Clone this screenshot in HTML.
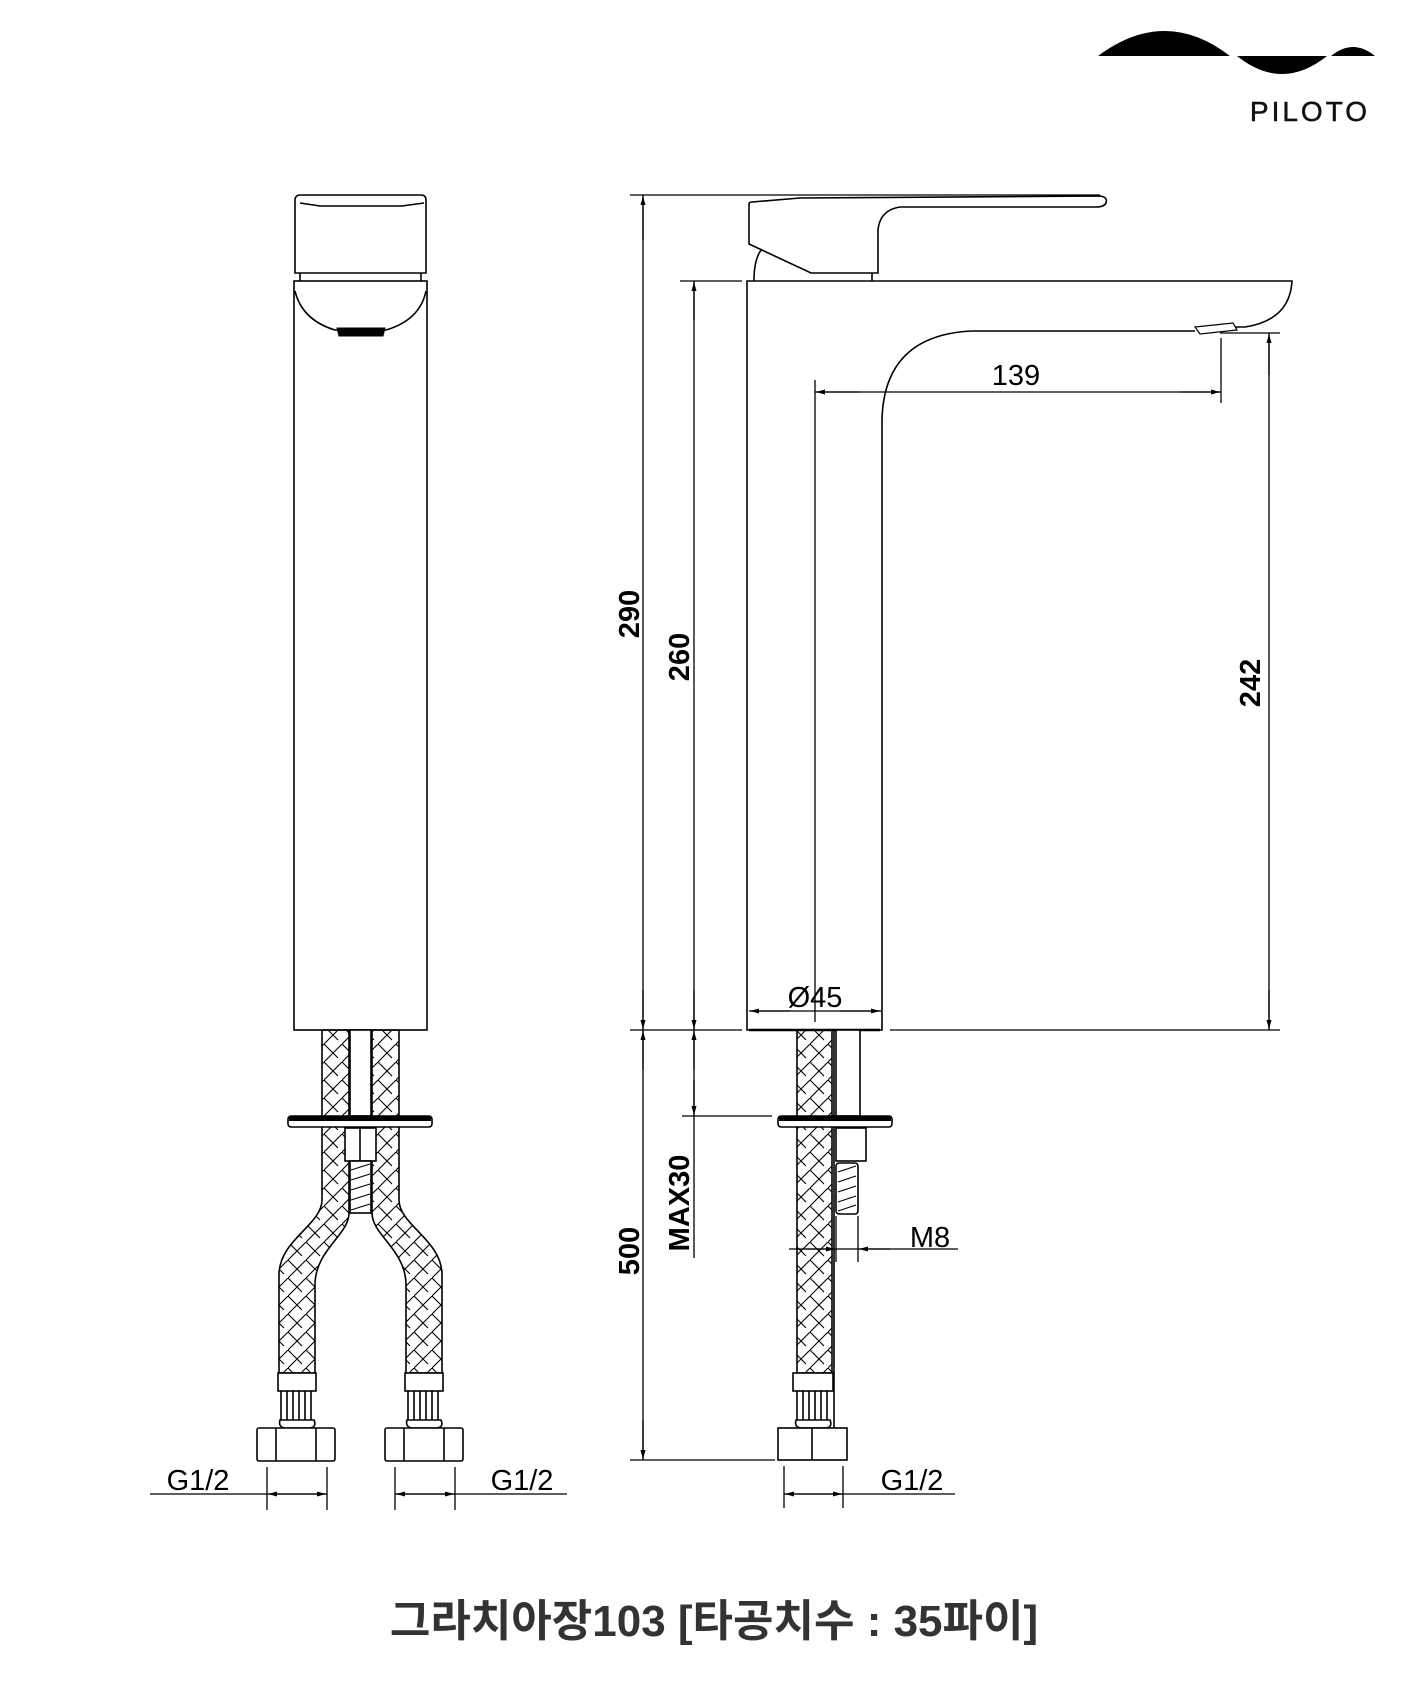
<!DOCTYPE html>
<html><head><meta charset="utf-8"><style>
html,body{margin:0;padding:0;background:#fff;}
svg{display:block;}
</style></head><body>
<svg width="1417" height="1701" viewBox="0 0 1417 1701" xmlns="http://www.w3.org/2000/svg">
<defs>
<pattern id="braid" width="18" height="18" patternUnits="userSpaceOnUse">
<path d="M0,0 L9,9 L0,18 M9,9 L18,0 M9,9 L14,14" stroke="#000" stroke-width="1.1" fill="none"/>
</pattern>
<marker id="ar" markerWidth="10" markerHeight="8" refX="9" refY="4" orient="auto" markerUnits="userSpaceOnUse">
<path d="M0,1.5 L9,4 L0,6.5 Z" fill="#000"/>
</marker>
</defs>
<g fill="none" stroke="#000" stroke-width="1.6">
<!-- Logo -->
<path d="M1098,56 Q1165,6 1230,56 Z" fill="#000" stroke="none"/>
<path d="M1237,56 Q1282,92 1327,56 Z" fill="#000" stroke="none"/>
<path d="M1331,56 Q1353,38 1375,56 Z" fill="#000" stroke="none"/>

<!-- LEFT VIEW -->
<path d="M295,199 Q296,195 300,195 L421,195 Q426,195 426,200 L426,273 L295,273 Z"/>
<path d="M300,203 L320,206 L402,206 L424,203"/>
<line x1="300" y1="273" x2="300" y2="281"/><line x1="421" y1="273" x2="421" y2="281"/>
<rect x="294" y="281" width="133" height="749"/>
<path d="M295,291 Q302,320 335,330 L386,330 Q420,320 426,291"/>
<path d="M337,328 L385,328 L383,336 L339,336 Z" fill="#000" stroke-width="1"/>
<!-- hoses -->
<path d="M322,1030 L322,1200 C322,1225 279,1240 279,1275 L279,1373 L315,1373 L315,1285 C315,1250 349,1235 349,1213 L349,1030 Z" fill="url(#braid)"/>
<path d="M399,1030 L399,1200 C399,1225 442,1240 442,1275 L442,1373 L406,1373 L406,1285 C406,1250 372,1235 372,1213 L372,1030 Z" fill="url(#braid)"/>
<rect x="350" y="1030" width="21" height="86" fill="#fff"/>
<rect x="288" y="1116" width="144" height="11" rx="3" fill="#fff"/>
<rect x="289" y="1116" width="142" height="5" fill="#000" stroke="none"/>
<rect x="345" y="1128" width="31" height="33" fill="#fff"/>
<line x1="360" y1="1128" x2="360" y2="1161"/>
<rect x="350" y="1161" width="21" height="52" fill="#fff"/>
<path d="M351,1170 L370,1164 M351,1180 L370,1174 M351,1190 L370,1184 M351,1200 L370,1194 M351,1210 L370,1204" stroke-width="1.1"/>
<!-- left fittings -->
<rect x="278" y="1373" width="38" height="18" fill="#fff"/>
<path d="M281,1391 L281,1420 M287,1391 L287,1420 M293,1391 L293,1420 M299,1391 L299,1420 M305,1391 L305,1420 M311,1391 L311,1420"/>
<path d="M280,1420 Q278,1427 285,1428 L310,1428 Q317,1427 314,1420 Z" fill="#fff"/>
<rect x="257" y="1428" width="78" height="33" rx="2" fill="#fff"/>
<line x1="276" y1="1428" x2="276" y2="1461"/><line x1="316" y1="1428" x2="316" y2="1461"/>
<rect x="405" y="1373" width="38" height="18" fill="#fff"/>
<path d="M408,1391 L408,1420 M414,1391 L414,1420 M420,1391 L420,1420 M426,1391 L426,1420 M432,1391 L432,1420 M438,1391 L438,1420"/>
<path d="M407,1420 Q405,1427 412,1428 L437,1428 Q444,1427 441,1420 Z" fill="#fff"/>
<rect x="385" y="1428" width="78" height="33" rx="2" fill="#fff"/>
<line x1="404" y1="1428" x2="404" y2="1461"/><line x1="444" y1="1428" x2="444" y2="1461"/>
<!-- left G1/2 dims -->
<g stroke-width="1.3">
<line x1="267" y1="1467" x2="267" y2="1510"/><line x1="327" y1="1467" x2="327" y2="1510"/>
<line x1="150" y1="1494" x2="327" y2="1494"/>
<line x1="297" y1="1494" x2="268" y2="1494" marker-end="url(#ar)"/>
<line x1="297" y1="1494" x2="326" y2="1494" marker-end="url(#ar)"/>
<line x1="395" y1="1467" x2="395" y2="1510"/><line x1="455" y1="1467" x2="455" y2="1510"/>
<line x1="395" y1="1494" x2="567" y2="1494"/>
<line x1="425" y1="1494" x2="396" y2="1494" marker-end="url(#ar)"/>
<line x1="425" y1="1494" x2="454" y2="1494" marker-end="url(#ar)"/>
</g>

<!-- RIGHT VIEW -->
<!-- handle -->
<path d="M749,244 L749,204 Q749,202 752,202 L800,198 L1100,196 Q1108,197 1106,203 Q1104,207 1096,207 L900,207 Q880,210 878,230 L878,273 L811,273 Z" fill="#fff"/>
<line x1="872" y1="273" x2="872" y2="281"/>
<path d="M754,281 Q754,258 762,249"/>
<!-- body + spout -->
<path d="M1235,327 L1245,327 Q1290,320 1292,281 L747,281 L747,1030 L882,1030 L882,420 Q884,335 972,331 L1195,331"/>
<path d="M1195,327 L1233,323 L1237,330 L1200,334 Z" fill="#fff" stroke-width="1.2"/>
<line x1="749" y1="1030" x2="880" y2="1030" stroke-width="2.5"/>
<!-- hose right view -->
<path d="M797,1030 L832,1030 L832,1373 L797,1373 Z" fill="url(#braid)"/>
<rect x="836" y="1030" width="24" height="86" fill="#fff"/>
<line x1="834" y1="1030" x2="834" y2="1460"/>
<rect x="778" y="1116" width="114" height="11" rx="3" fill="#fff"/>
<rect x="779" y="1116" width="112" height="5" fill="#000" stroke="none"/>
<rect x="836" y="1128" width="30" height="33" fill="#fff"/>
<rect x="836" y="1163" width="22" height="51" rx="3" fill="#fff"/>
<path d="M838,1172 L856,1166 M838,1182 L856,1176 M838,1192 L856,1186 M838,1202 L856,1196 M838,1211 L856,1205" stroke-width="1.1"/>
<rect x="793" y="1373" width="40" height="18" fill="#fff"/>
<path d="M797,1391 L797,1420 M803,1391 L803,1420 M809,1391 L809,1420 M815,1391 L815,1420 M821,1391 L821,1420 M827,1391 L827,1420"/>
<path d="M796,1420 Q794,1427 801,1428 L826,1428 Q833,1427 830,1420 Z" fill="#fff"/>
<rect x="778" y="1428" width="69" height="32" fill="#fff"/>
<line x1="812" y1="1428" x2="812" y2="1460"/>

<!-- dimension lines -->
<g stroke-width="1.3">
<line x1="630" y1="195" x2="1100" y2="195"/>
<line x1="643" y1="195" x2="643" y2="1460"/>
<line x1="643" y1="240" x2="643" y2="196" marker-end="url(#ar)"/>
<line x1="643" y1="990" x2="643" y2="1029" marker-end="url(#ar)"/>
<line x1="643" y1="1070" x2="643" y2="1031" marker-end="url(#ar)"/>
<line x1="643" y1="1420" x2="643" y2="1459" marker-end="url(#ar)"/>
<line x1="630" y1="1460" x2="775" y2="1460"/>
<line x1="680" y1="281" x2="742" y2="281"/>
<line x1="694" y1="281" x2="694" y2="1258"/>
<line x1="694" y1="320" x2="694" y2="282" marker-end="url(#ar)"/>
<line x1="694" y1="990" x2="694" y2="1029" marker-end="url(#ar)"/>
<line x1="694" y1="1070" x2="694" y2="1031" marker-end="url(#ar)"/>
<line x1="694" y1="1080" x2="694" y2="1115" marker-end="url(#ar)"/>
<line x1="682" y1="1116" x2="772" y2="1116"/>
<line x1="630" y1="1030" x2="742" y2="1030"/>
<line x1="815" y1="380" x2="815" y2="1022"/>
<line x1="1221" y1="338" x2="1221" y2="403"/>
<line x1="815" y1="392" x2="1221" y2="392"/>
<line x1="860" y1="392" x2="816" y2="392" marker-end="url(#ar)"/>
<line x1="1180" y1="392" x2="1220" y2="392" marker-end="url(#ar)"/>
<line x1="1220" y1="333" x2="1280" y2="333"/>
<line x1="890" y1="1030" x2="1280" y2="1030"/>
<line x1="1269" y1="333" x2="1269" y2="1030"/>
<line x1="1269" y1="375" x2="1269" y2="334" marker-end="url(#ar)"/>
<line x1="1269" y1="990" x2="1269" y2="1029" marker-end="url(#ar)"/>
<line x1="749" y1="1011" x2="881" y2="1011"/>
<line x1="790" y1="1011" x2="750" y2="1011" marker-end="url(#ar)"/>
<line x1="840" y1="1011" x2="880" y2="1011" marker-end="url(#ar)"/>
<line x1="836" y1="1216" x2="836" y2="1262"/><line x1="858" y1="1216" x2="858" y2="1262"/>
<line x1="789" y1="1249" x2="958" y2="1249"/>
<line x1="805" y1="1249" x2="835" y2="1249" marker-end="url(#ar)"/>
<line x1="890" y1="1249" x2="859" y2="1249" marker-end="url(#ar)"/>
<line x1="784" y1="1466" x2="784" y2="1508"/><line x1="843" y1="1466" x2="843" y2="1508"/>
<line x1="784" y1="1494" x2="955" y2="1494"/>
<line x1="813" y1="1494" x2="785" y2="1494" marker-end="url(#ar)"/>
<line x1="813" y1="1494" x2="842" y2="1494" marker-end="url(#ar)"/>
</g>
</g>

<g font-family="'Liberation Sans', Arial, sans-serif" fill="#000">
<text x="1310" y="121" font-size="28" text-anchor="middle" letter-spacing="3" fill="#111" stroke="#111" stroke-width="0.5">PILOTO</text>
<text x="1016" y="385" font-size="29" text-anchor="middle">139</text>
<text x="815" y="1007" font-size="29" text-anchor="middle">Ø45</text>
<text x="930" y="1247" font-size="29" text-anchor="middle">M8</text>
<text x="198" y="1490" font-size="29" text-anchor="middle">G1/2</text>
<text x="522" y="1490" font-size="29" text-anchor="middle">G1/2</text>
<text x="912" y="1490" font-size="29" text-anchor="middle">G1/2</text>
<g font-weight="bold" font-size="29">
<text transform="translate(639,614) rotate(-90)" text-anchor="middle">290</text>
<text transform="translate(689,657) rotate(-90)" text-anchor="middle">260</text>
<text transform="translate(1260,683) rotate(-90)" text-anchor="middle">242</text>
<text transform="translate(639,1251) rotate(-90)" text-anchor="middle">500</text>
<text transform="translate(689,1203) rotate(-90)" text-anchor="middle">MAX30</text>
</g>
<text x="714" y="1636" font-size="44" text-anchor="middle" font-weight="bold" fill="#333" font-family="'Liberation Sans','Noto Sans CJK KR',sans-serif">그라치아장103 [타공치수 : 35파이]</text>
</g>
</svg>
</body></html>
